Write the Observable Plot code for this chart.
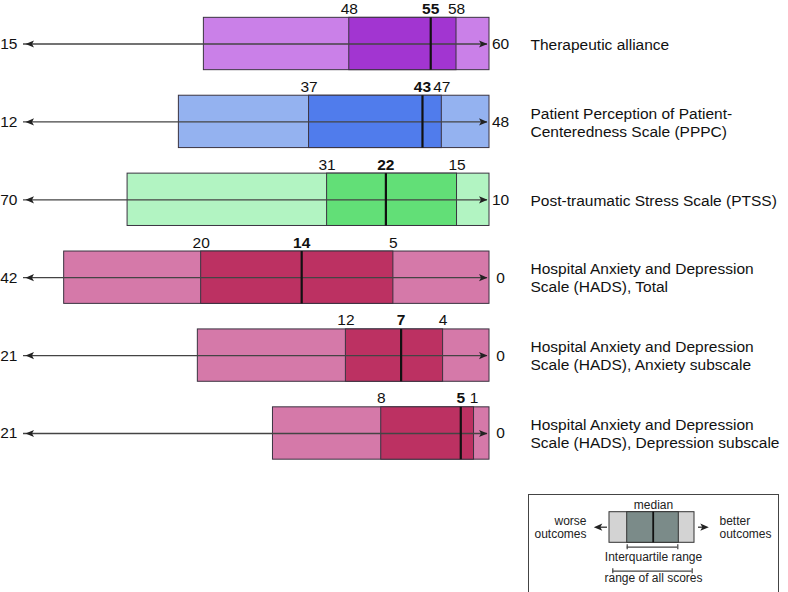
<!DOCTYPE html>
<html>
<head>
<meta charset="utf-8">
<script src="https://cdn.jsdelivr.net/npm/d3@7"></script>
<script src="https://cdn.jsdelivr.net/npm/@observablehq/plot@0.6"></script>
<style>
  body { margin: 0; background: #fff; }
  #wrap { position: relative; width: 788px; height: 592px; overflow: hidden; }
  #legend { position: absolute; left: 527px; top: 494px; }
</style>
</head>
<body>
<div id="wrap"><div id="chart"></div><div id="legend"></div></div>
<script>
// ---- data ----
const scaleNames = [
  "Therapeutic alliance",
  "Patient Perception of Patient-\nCenteredness Scale (PPPC)",
  "Post-traumatic Stress Scale (PTSS)",
  "Hospital Anxiety and Depression\nScale (HADS), Total",
  "Hospital Anxiety and Depression\nScale (HADS), Anxiety subscale",
  "Hospital Anxiety and Depression\nScale (HADS), Depression subscale"
];
const worstScore = [15, 12, 70, 42, 21, 21];   // left end (worse outcomes)
const bestScore  = [60, 48, 10, 0, 0, 0];      // right end (better outcomes)
const q1Label     = [48, 37, 31, 20, 12, 8];
const medianLabel = [55, 43, 22, 14, 7, 5];
const q3Label     = [58, 47, 15, 5, 4, 1];
// where the (schematic) figure places each element along its arrow, in score units
const minDrawn    = [32.3, 23.9, 56.8, 38.5, 13.2, 9.8];
const q1Drawn     = [46.4, 34.0, 31.0, 26.1, 6.5, 4.9];
const medianDrawn = [54.3, 42.8, 23.4, 17.0, 4.0, 1.3];
const q3Drawn     = [56.8, 44.3, 14.2, 8.7, 2.1, 0.7];
const maxDrawn    = [60, 48, 10, 0, 0, 0];
const lightColors = ["#ca80e8", "#94b2f0", "#b2f4c2", "#d579a9", "#d579a9", "#d579a9"];
const darkColors  = ["#a235d1", "#507cec", "#62df77", "#bc3162", "#bc3162", "#bc3162"];

// ---- table ----
const rows = scaleNames.map((name, i) => {
  const f = v => (v - worstScore[i]) / (bestScore[i] - worstScore[i]);
  return {
    i, name,
    worst: worstScore[i], best: bestScore[i],
    lo: f(minDrawn[i]), q1: f(q1Drawn[i]), med: f(medianDrawn[i]), q3: f(q3Drawn[i]), hi: f(maxDrawn[i]),
    q1L: q1Label[i], medL: medianLabel[i], q3L: q3Label[i],
    light: lightColors[i], dark: darkColors[i]
  };
});
const half = 0.336;

const rightHead = {draw(ctx) { ctx.moveTo(0, 0); ctx.lineTo(-8.5, -3.6); ctx.lineTo(-6.5, 0); ctx.lineTo(-8.5, 3.6); ctx.closePath(); }};
const leftHead  = {draw(ctx) { ctx.moveTo(0, 0); ctx.lineTo(8.5, -3.6); ctx.lineTo(6.5, 0); ctx.lineTo(8.5, 3.6); ctx.closePath(); }};

const font = "'Liberation Sans', Arial, Helvetica, sans-serif";

const chart = Plot.plot({
  width: 788,
  height: 592,
  x: {domain: [0, 1], range: [25, 489], axis: null},
  y: {domain: [0, 5], range: [43.5, 433], axis: null},
  color: {type: "identity"},
  style: {fontFamily: font, fontSize: "15.5px", color: "#111", background: "white"},
  marks: [
    Plot.rect(rows, {x1: "lo", x2: "hi", y1: d => d.i - half, y2: d => d.i + half, fill: "light", stroke: "#3a3340", strokeWidth: 1}),
    Plot.rect(rows, {x1: "q1", x2: "q3", y1: d => d.i - half, y2: d => d.i + half, fill: "dark", stroke: "#3a3340", strokeWidth: 1}),
    Plot.ruleY(rows, {y: "i", x1: d => 0, x2: d => 1, stroke: "#444", strokeWidth: 1.3, dx: -2}),
    Plot.dot(rows, {x: d => 0, y: "i", symbol: leftHead, fill: "#222", stroke: "none"}),
    Plot.dot(rows, {x: d => 1, y: "i", symbol: rightHead, fill: "#222", stroke: "none", dx: -2}),
    Plot.ruleX(rows, {x: "med", y1: d => d.i - half, y2: d => d.i + half, stroke: "#111", strokeWidth: 2.2}),
    Plot.text(rows, {x: d => 0, y: "i", text: d => String(d.worst), textAnchor: "end", dx: -8}),
    Plot.text(rows, {x: d => 1, y: "i", text: d => String(d.best), textAnchor: "middle", dx: 11}),
    Plot.text(rows, {x: d => 1, y: "i", text: "name", textAnchor: "start", dx: 41, lineHeight: 1.15}),
    Plot.text(rows, {x: "q1", y: d => d.i - half, text: d => String(d.q1L), lineAnchor: "bottom", dy: -4}),
    Plot.text(rows, {x: "med", y: d => d.i - half, text: d => String(d.medL), lineAnchor: "bottom", dy: -4, fontWeight: "bold"}),
    Plot.text(rows, {x: "q3", y: d => d.i - half, text: d => String(d.q3L), lineAnchor: "bottom", dy: -4})
  ]
});
document.getElementById("chart").appendChild(chart);

// ---- key (schematic) ----
const key = Plot.plot({
  width: 254,
  height: 100,
  x: {domain: [0, 254], range: [0, 254], axis: null},
  y: {domain: [0, 100], range: [0, 100], axis: null},
  style: {fontFamily: font, fontSize: "12px", color: "#222", background: "white"},
  marks: [
    Plot.rect([0], {x1: 1.5, x2: 251.5, y1: 0.5, y2: 99.5, fill: "white", stroke: "#444", strokeWidth: 1}),
    Plot.rect([0], {x1: 82, x2: 167, y1: 17.7, y2: 48.3, fill: "#d3d3d3", stroke: "#333"}),
    Plot.rect([0], {x1: 99.7, x2: 151.3, y1: 17.7, y2: 48.3, fill: "#7b8b89", stroke: "#333"}),
    Plot.ruleX([0], {x: 125.7, y1: 17.7, y2: 48.3, stroke: "#111", strokeWidth: 1.8}),
    Plot.ruleY([0], {y: 32.7, x1: 70, x2: 80, stroke: "#333", strokeWidth: 1.3}),
    Plot.dot([0], {x: 66.3, y: 32.7, symbol: leftHead, fill: "#222", stroke: "none"}),
    Plot.ruleY([0], {y: 32.7, x1: 171, x2: 178, stroke: "#333", strokeWidth: 1.3}),
    Plot.dot([0], {x: 181.3, y: 32.7, symbol: rightHead, fill: "#222", stroke: "none"}),
    Plot.ruleY([0], {y: 52.7, x1: 99.7, x2: 150.3, stroke: "#444", strokeWidth: 1.2}),
    Plot.ruleX([99.7, 150.3], {x: d => d, y1: 50.2, y2: 55.2, stroke: "#444", strokeWidth: 1.2}),
    Plot.ruleY([0], {y: 76.7, x1: 85.3, x2: 164.7, stroke: "#444", strokeWidth: 1.2}),
    Plot.ruleX([85.3, 164.7], {x: d => d, y1: 74.2, y2: 79.2, stroke: "#444", strokeWidth: 1.2}),
    Plot.text(["median"], {x: 126, y: 14.3, text: d => d, lineAnchor: "bottom"}),
    Plot.text(["worse\noutcomes"], {x: 59, y: 43.7, text: d => d, textAnchor: "end", lineAnchor: "bottom", lineHeight: 1.12}),
    Plot.text(["better\noutcomes"], {x: 192, y: 43.7, text: d => d, textAnchor: "start", lineAnchor: "bottom", lineHeight: 1.12}),
    Plot.text(["Interquartile range"], {x: 126, y: 66.7, text: d => d, lineAnchor: "bottom"}),
    Plot.text(["range of all scores"], {x: 126, y: 87.7, text: d => d, lineAnchor: "bottom"})
  ]
});
document.getElementById("legend").appendChild(key);
</script>
</body>
</html>
